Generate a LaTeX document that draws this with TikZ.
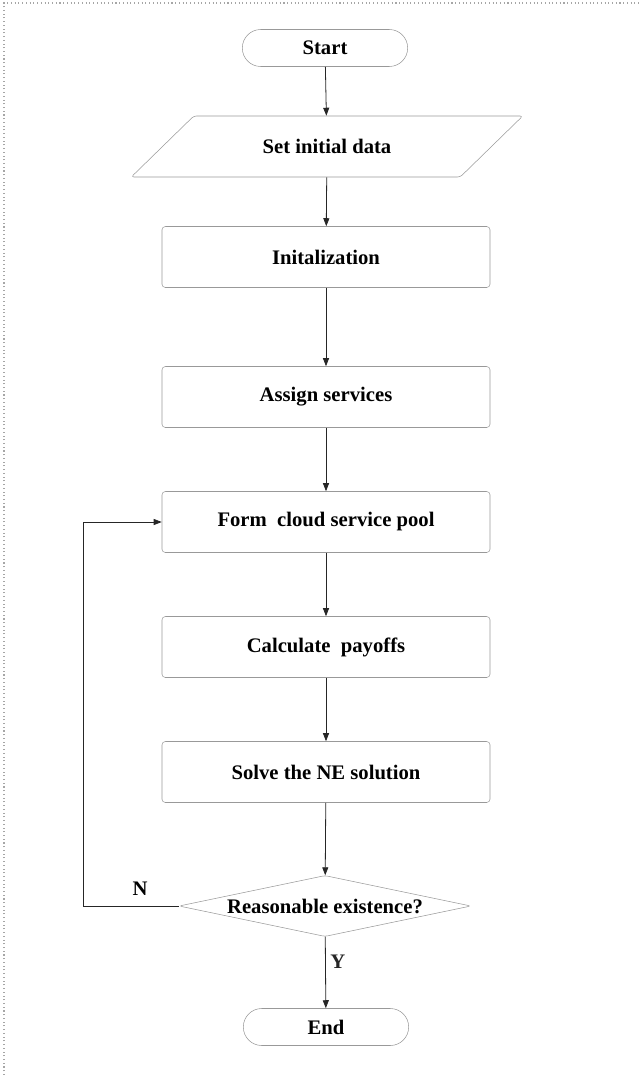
\documentclass[tikz,border=0pt]{standalone}
\usepackage{fontspec}
\setmainfont{Liberation Serif}
\usetikzlibrary{arrows.meta,shapes.geometric}

\begin{document}
\begin{tikzpicture}[
    x=0.75pt, y=-0.75pt,
    term/.style={draw=gray!80, rounded corners=13.8pt, minimum width=124pt, minimum height=27.75pt, font=\fontsize{15.5}{18}\selectfont\bfseries},
    io/.style={draw=gray!80, trapezium, trapezium left angle=36, trapezium right angle=144, trapezium stretches=true, rounded corners=2pt, minimum width=294pt, minimum height=45.75pt, font=\fontsize{15.5}{18}\selectfont\bfseries},
    box/.style={draw=gray!80, rounded corners=2.5pt, minimum width=246pt, minimum height=45.75pt, font=\fontsize{15.5}{18}\selectfont\bfseries},
    decide/.style={draw=gray!80, diamond, aspect=4.8, inner sep=0pt, rounded corners=2pt, minimum width=219pt, minimum height=45.75pt, font=\fontsize{15.5}{18}\selectfont\bfseries},
    arr/.style={-{Triangle[length=6pt,width=4.5pt]}, black!85, semithick},
    lbl/.style={font=\fontsize{15.5}{18}\selectfont\bfseries}
]
\useasboundingbox (0,0) rectangle (639,1075);
\draw[gray!70, dotted, thick] (4,1075) -- (4,3) -- (639,3);

\node[term] (start) at (325,48) {Start};
\node[io] (data) at (327,146.5) {Set initial data};
\node[box] (init) at (326,257) {Initalization};
\node[box] (assign) at (326,397) {Assign services};
\node[box] (pool) at (326,522) {Form\ \ cloud service pool};
\node[box] (payoff) at (326,647) {Calculate\ \ payoffs};
\node[box] (solve) at (326,772) {Solve the NE solution};
\node[decide] (exist) at (325,906) {Reasonable existence?};
\node[term] (end) at (326,1027) {End};

\coordinate (c1) at (83,906);
\coordinate (c2) at (83,522);

\draw[arr] (start) -- (data);
\draw[arr] (data) -- (init);
\draw[arr] (init) -- (assign);
\draw[arr] (assign) -- (pool);
\draw[arr] (pool) -- (payoff);
\draw[arr] (payoff) -- (solve);
\draw[arr] (solve) -- (exist);
\draw[arr] (exist) -- node[lbl, right, pos=0.35] {Y} (end);
\draw[arr] (exist.west) -- (c1) -- (c2) -- (pool.west);
\node[lbl] (nlab) at (140,889) {N};
\end{tikzpicture}
\end{document}
